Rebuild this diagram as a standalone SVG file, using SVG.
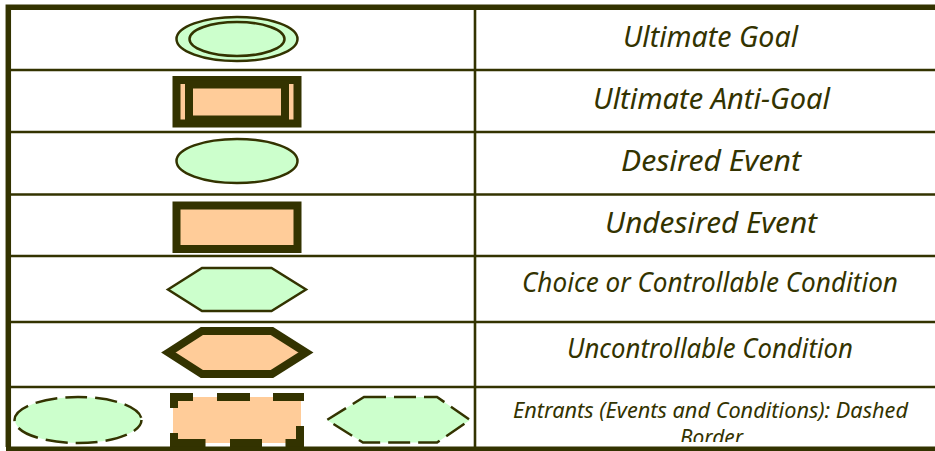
<svg xmlns="http://www.w3.org/2000/svg" width="935" height="451" viewBox="0 0 935 451">
<style>
.l{stroke:#333300;fill:none}
.g{fill:#CCFFCC;stroke:#333300;stroke-width:2.5}
.o{fill:#FFCC99;stroke:#333300}
.d{fill:none;stroke:#333300;stroke-width:2.5;stroke-dasharray:22 8}
text{font-family:"Noto Sans","DejaVu Sans",sans-serif;font-style:italic;fill:#333300}
.a{font-size:29px}.b{font-size:26.500px}.c{font-size:21.500px}
</style>
<defs><clipPath id="cell"><rect x="477" y="389" width="458" height="53"/></clipPath></defs>
<rect width="935" height="451" fill="#fff"/>
<g id="table" class="l">
<path stroke-width="2.6" d="M11 70H935M11 132H935M11 194.500H935M11 256H935M11 322H935M11 387H935M475 10V447"/>
<path stroke-width="5.500" d="M8.300 447V7.300H935"/>
</g>
<g id="ultimate-goal">
<ellipse class="g" cx="237" cy="39" rx="60.500" ry="22"/>
<ellipse class="g" cx="237" cy="39" rx="47.500" ry="17"/>
<text class="a" x="623" y="47" textLength="175" lengthAdjust="spacingAndGlyphs">Ultimate Goal</text>
</g>
<g id="ultimate-anti-goal">
<rect class="o" x="176.500" y="80" width="121" height="43.500" stroke-width="8"/>
<rect class="o" x="189" y="84.500" width="96" height="35" stroke-width="8"/>
<text class="a" x="593" y="109" textLength="237" lengthAdjust="spacingAndGlyphs">Ultimate Anti-Goal</text>
</g>
<g id="desired-event">
<ellipse class="g" cx="237" cy="161" rx="60.500" ry="22"/>
<text class="a" x="621" y="171" textLength="180" lengthAdjust="spacingAndGlyphs">Desired Event</text>
</g>
<g id="undesired-event">
<rect class="o" x="176.500" y="205.500" width="121" height="43.500" stroke-width="8"/>
<text class="a" x="605" y="233" textLength="212" lengthAdjust="spacingAndGlyphs">Undesired Event</text>
</g>
<g id="choice-condition">
<polygon class="g" points="168,289.500 202,268 271.500,268 306,289.500 271.500,311 202,311"/>
<text class="b" x="522" y="292" textLength="376" lengthAdjust="spacingAndGlyphs">Choice or Controllable Condition</text>
</g>
<g id="uncontrollable-condition">
<polygon class="o" stroke-width="8" points="168.500,352.500 202,331 272,331 306,352.500 272,374 202,374"/>
<text class="b" x="567" y="358" textLength="286" lengthAdjust="spacingAndGlyphs">Uncontrollable Condition</text>
</g>
<g id="entrants">
<ellipse cx="78" cy="420" rx="63" ry="23" fill="#CCFFCC"/>
<ellipse class="d" cx="78" cy="420" rx="63.500" ry="23" stroke-dashoffset="8"/>
<rect x="173" y="397" width="128" height="46" fill="#FFCC99"/>
<path class="l" stroke-width="8" d="M174 408V397H193M217 397H250M273 397H304M300 426V443H285.500M262 443H230M205.500 443H174V433"/>
<polygon points="364,397 437,397 470,420 437,442.500 363,442.500 327,420" fill="#CCFFCC"/>
<polygon class="d" points="364,397 437,397 470,420 437,442.500 363,442.500 327,420"/>
<g clip-path="url(#cell)">
<text class="c" x="513" y="418" textLength="395" lengthAdjust="spacingAndGlyphs">Entrants (Events and Conditions): Dashed</text>
<text class="c" x="680" y="444.500" textLength="63" lengthAdjust="spacingAndGlyphs">Border</text>
</g>
</g>
<rect id="bottom-border" x="6" y="446.500" width="929" height="4.500" fill="#333300"/>
</svg>
